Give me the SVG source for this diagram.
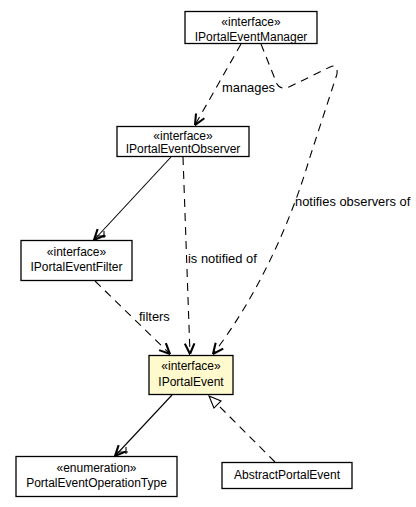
<svg xmlns="http://www.w3.org/2000/svg" width="416" height="507" viewBox="0 0 416 507">
<style>
.box{fill:#ffffff;stroke:#000000;stroke-width:1.3}
.cur{fill:#fffacd;stroke:#000000;stroke-width:1.3}
text{font-family:"Liberation Sans",Arial,sans-serif;font-size:12px;fill:#000000}
.lbl{font-size:12.9px}
.c{text-anchor:middle}
.ln{fill:none;stroke:#000000;stroke-width:1.1}
.dash{stroke-dasharray:8,6}
</style>
<defs>
<marker id="open" markerUnits="userSpaceOnUse" viewBox="0 0 12 12" refX="11.5" refY="6" markerWidth="12" markerHeight="12" orient="auto">
<path d="M1,1.2 L11.5,6 L1,10.8" fill="none" stroke="#000000" stroke-width="2.1"/>
</marker>
<marker id="tri" markerUnits="userSpaceOnUse" viewBox="0 0 14 12" refX="13" refY="6" markerWidth="14" markerHeight="12" orient="auto">
<path d="M1,1 L13,6 L1,11 Z" fill="#ffffff" stroke="#000000" stroke-width="1.1"/>
</marker>
</defs>
<g id="connectors">
<path class="ln dash" d="M241,44 L195,125" marker-end="url(#open)"/>
<path class="ln dash" d="M261,44 L277,84 Q281,91 291,86 L330,67 Q338,63 337,74 L309,160 C290,225 255,300 213,354" marker-end="url(#open)"/>
<path class="ln dash" d="M183,157 L190,354" marker-end="url(#open)"/>
<path class="ln" d="M171,157 L94,240" marker-end="url(#open)"/>
<path class="ln" d="M95,236 L106,236 M104,231 L104,238"/>
<path class="ln dash" d="M95,281 L170,354" marker-end="url(#open)"/>
<path class="ln" d="M172,395 L115,456" marker-end="url(#open)"/>
<path class="ln" d="M117,452 L128,452 M126,447 L126,454"/>
<path class="ln dash" d="M275,462 L209,396" marker-end="url(#tri)"/>
<text class="lbl" x="222" y="91.5">manages</text>
<text class="lbl" x="295" y="206">notifies observers of</text>
<text class="lbl" x="188" y="262.5">is notified of</text>
<text class="lbl" x="139" y="321">filters</text>
</g>
<g id="IPortalEventManager">
<rect class="box" x="185" y="11.5" width="132" height="32"/>
<text class="c" x="251" y="26">«interface»</text>
<text class="c" x="251" y="40.5">IPortalEventManager</text>
</g>
<g id="IPortalEventObserver">
<rect class="box" x="117" y="126.5" width="132" height="30"/>
<text class="c" x="183" y="139.5">«interface»</text>
<text class="c" x="183" y="153">IPortalEventObserver</text>
</g>
<g id="IPortalEventFilter">
<rect class="box" x="21" y="240.5" width="111" height="40"/>
<text class="c" x="76.5" y="256">«interface»</text>
<text class="c" x="76.5" y="271">IPortalEventFilter</text>
</g>
<g id="IPortalEvent">
<rect class="cur" x="149" y="355.5" width="84" height="39"/>
<text class="c" x="191" y="369.5">«interface»</text>
<text class="c" x="191" y="386">IPortalEvent</text>
</g>
<g id="PortalEventOperationType">
<rect class="box" x="16" y="456.5" width="161" height="40"/>
<text class="c" x="96.5" y="472">«enumeration»</text>
<text class="c" x="96.5" y="487">PortalEventOperationType</text>
</g>
<g id="AbstractPortalEvent">
<rect class="box" x="222" y="462.5" width="130" height="26"/>
<text class="c" x="287" y="479">AbstractPortalEvent</text>
</g>
</svg>
